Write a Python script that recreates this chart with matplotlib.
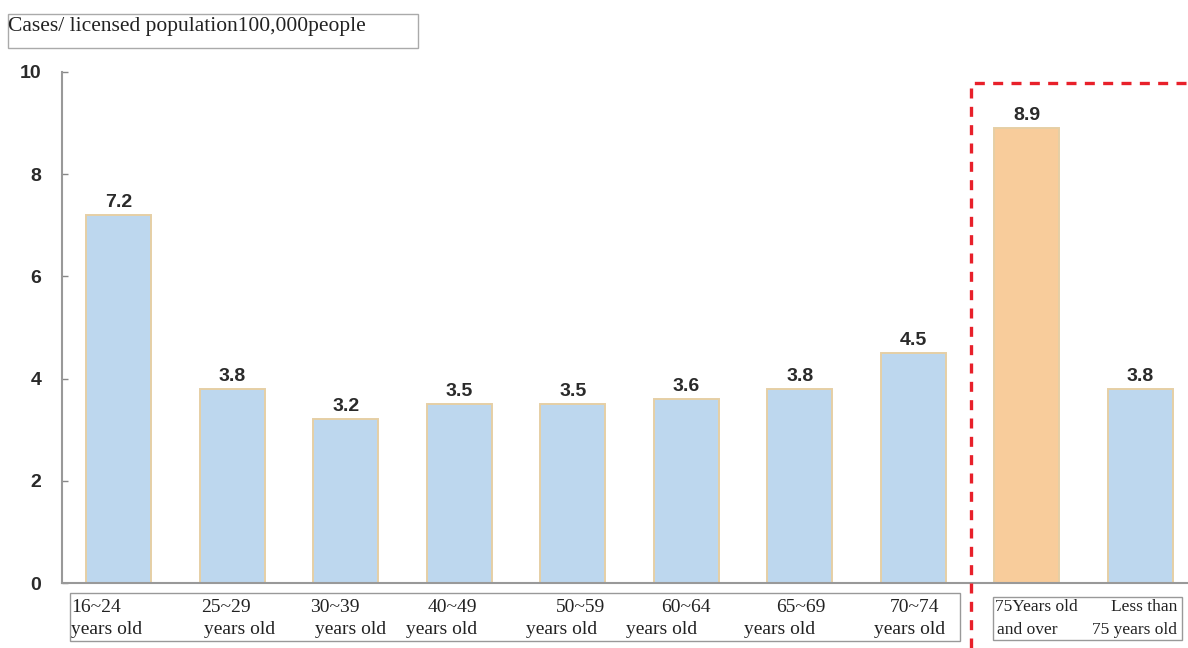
import matplotlib.pyplot as plt
import matplotlib.transforms as mtransforms
from matplotlib.patches import Rectangle
from matplotlib.lines import Line2D

# rates per 100,000 licensed drivers, by age group
groups_top = ['16~24', '25~29', '30~39', '40~49', '50~59', '60~64', '65~69', '70~74',
              '75Years old', 'Less than']
groups_bottom = ['years old'] * 8 + ['and over', '75 years old']
rates = [7.2, 3.8, 3.2, 3.5, 3.5, 3.6, 3.8, 4.5, 8.9, 3.8]
highlight = [False] * 8 + [True, False]

# small pixel nudges for the two-line category labels
nudge_top = [-23, -6, -11, -7, 8, 0, 1, 1, 10, 4]
nudge_bottom = [-12, 7, 5, -18, -11, -25, -20, -4, 0, -6]

W, H = 1188, 648
fig = plt.figure(figsize=(W / 100, H / 100), dpi=100)

def fx(px):
    return px / W

def fy(py):
    return 1 - py / H

ax = fig.add_axes([fx(62), fy(583), fx(1188) - fx(62), fy(72) - fy(583)])

x = range(len(rates))
colors = ['#f8cc9b' if h else '#bdd7ee' for h in highlight]
ax.bar(x, rates, width=0.57, color=colors, edgecolor='#e6cfa5', linewidth=1.4, zorder=2)

for i, v in enumerate(rates):
    ax.annotate(f'{v:.1f}', (i, v), xytext=(0, 3), textcoords='offset points',
                ha='center', va='bottom', fontsize=14, fontweight='bold',
                family='Liberation Sans', color='#2a2a2a')

ax.set_xlim(-0.5, 9.42)
ax.set_ylim(0, 10)
ax.set_yticks(range(0, 11, 2))
ax.set_xticks([])
ax.tick_params(axis='y', direction='in', length=4, color='#888888', width=1,
               labelsize=14, pad=15)
for lab in ax.get_yticklabels():
    lab.set_family('Liberation Sans')
    lab.set_fontweight('bold')
    lab.set_color('#2a2a2a')
for s in ['top', 'right']:
    ax.spines[s].set_visible(False)
for s in ['left', 'bottom']:
    ax.spines[s].set_color('#999999')
    ax.spines[s].set_linewidth(1.5)

# unit caption box
fig.patches.append(Rectangle((fx(8), fy(48)), fx(418) - fx(8), fy(14) - fy(48),
                             transform=fig.transFigure, fill=False,
                             edgecolor='#aaaaaa', linewidth=1))
fig.text(fx(8), fy(26), 'Cases/ licensed population100,000people', ha='left',
         va='center', fontsize=15.5, family='Liberation Serif', color='#222222')

# boxes around the category labels
for x0, x1, y0, y1 in [(70, 960, 593, 641), (993, 1182, 597, 640)]:
    fig.patches.append(Rectangle((fx(x0), fy(y1)), fx(x1) - fx(x0), fy(y0) - fy(y1),
                                 transform=fig.transFigure, fill=False,
                                 edgecolor='#999999', linewidth=1))

blend = mtransforms.blended_transform_factory(ax.transData, fig.transFigure)
for i in x:
    size = 12.5 if i >= 8 else 14
    t1 = mtransforms.offset_copy(blend, fig=fig, x=nudge_top[i], y=0, units='dots')
    t2 = mtransforms.offset_copy(blend, fig=fig, x=nudge_bottom[i], y=0, units='dots')
    fig.text(i, fy(607), groups_top[i], transform=t1, ha='center', va='center',
             fontsize=size, family='Liberation Serif', color='#222222')
    fig.text(i, fy(630), groups_bottom[i], transform=t2, ha='center', va='center',
             fontsize=size, family='Liberation Serif', color='#222222')

# red dashed frame around the 75+ comparison
fig.add_artist(Line2D([fx(971), fx(971), fx(1188)], [fy(648), fy(83), fy(83)],
                      transform=fig.transFigure, color='#e8202a', linewidth=2.4,
                      dashes=(3, 2.5)))

fig.savefig('out.png', dpi=100)
